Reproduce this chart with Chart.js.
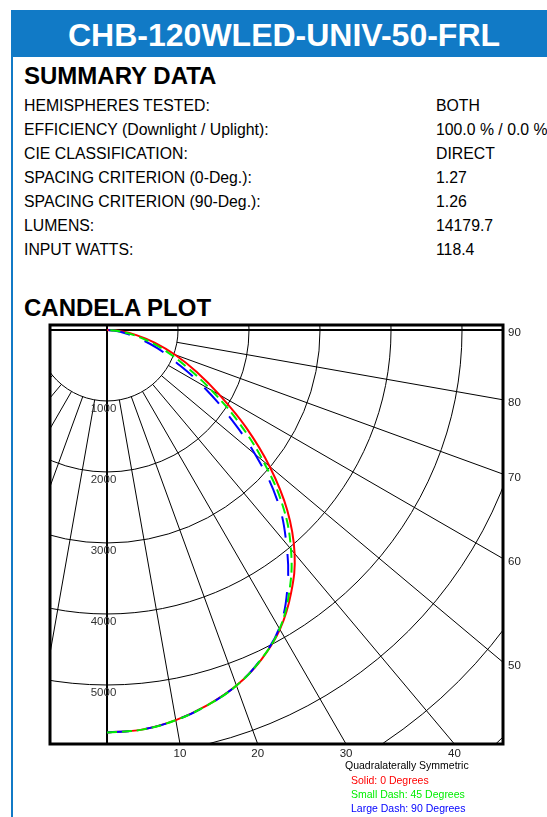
<!DOCTYPE html>
<html>
<head>
<meta charset="utf-8">
<title>CHB-120WLED-UNIV-50-FRL</title>
<script src="https://cdn.jsdelivr.net/npm/chart.js@4.4.1/dist/chart.umd.min.js"></script>
<style>
  html, body { margin: 0; padding: 0; background: #fff; }
  body { position: relative; width: 547px; height: 817px; overflow: hidden; font-family: "Liberation Sans", Arial, sans-serif; color: #000; }
  .bar { position: absolute; left: 11px; top: 10px; width: 536px; height: 47px; background: #117ac6; }
  .edge { position: absolute; left: 11px; top: 57px; width: 2px; height: 760px; background: #117ac6; }
  .title { position: absolute; left: 68px; top: 19px; font-size: 32px; line-height: 32px; font-weight: bold; color: #fff; white-space: nowrap; }
  .head { position: absolute; left: 24px; font-weight: bold; white-space: nowrap; }
  .row { position: absolute; font-size: 15.8px; line-height: 16px; white-space: nowrap; }
  .lbl { left: 24px; }
  .val { left: 436px; }
  #plot { position: absolute; left: 40px; top: 315px; width: 507px; height: 502px; }
  .legend { position: absolute; font-size: 10.5px; line-height: 10.5px; white-space: nowrap; }
</style>
</head>
<body>
<div class="bar"></div>
<div class="edge"></div>
<div class="title">CHB-120WLED-UNIV-50-FRL</div>

<div class="head" style="top:64px;font-size:24px;line-height:24px;">SUMMARY DATA</div>
<div class="row lbl" style="top:98px">HEMISPHERES TESTED:</div>
<div class="row val" style="top:98px">BOTH</div>
<div class="row lbl" style="top:122px">EFFICIENCY (Downlight / Uplight):</div>
<div class="row val" style="top:122px">100.0 % / 0.0 %</div>
<div class="row lbl" style="top:146px">CIE CLASSIFICATION:</div>
<div class="row val" style="top:146px">DIRECT</div>
<div class="row lbl" style="top:170px">SPACING CRITERION (0-Deg.):</div>
<div class="row val" style="top:170px">1.27</div>
<div class="row lbl" style="top:194px">SPACING CRITERION (90-Deg.):</div>
<div class="row val" style="top:194px">1.26</div>
<div class="row lbl" style="top:218px">LUMENS:</div>
<div class="row val" style="top:218px">14179.7</div>
<div class="row lbl" style="top:242px">INPUT WATTS:</div>
<div class="row val" style="top:242px">118.4</div>

<div class="head" style="top:296px;font-size:24px;line-height:24px;">CANDELA PLOT</div>

<div id="plot"><canvas id="candela"></canvas></div>

<div class="legend" style="left:345px;top:760px;color:#000">Quadralaterally Symmetric</div>
<div class="legend" style="left:351px;top:775px;color:#ff0000">Solid: 0 Degrees</div>
<div class="legend" style="left:351px;top:789px;color:#00ee00">Small Dash: 45 Degrees</div>
<div class="legend" style="left:351px;top:803px;color:#0000ff">Large Dash: 90 Degrees</div>

<script>
// vertical angles (0 = straight down, 90 = horizontal)
const angles = [0, 5, 10, 15, 20, 25, 30, 35, 40, 45, 50, 55, 60, 65, 70, 75, 80, 85, 90];
// candela per plane
const cd0  = [5670, 5650, 5580, 5470, 5330, 5130, 4870, 4520, 4110, 3590, 2990, 2390, 1830, 1390, 1020, 700, 420, 180, 0];
const cd45 = [5670, 5650, 5580, 5470, 5330, 5125, 4860, 4480, 4030, 3500, 2870, 2260, 1700, 1240, 900, 600, 340, 130, 0];
const cd90 = [5670, 5650, 5580, 5470, 5330, 5120, 4850, 4430, 3930, 3390, 2720, 2070, 1530, 1070, 760, 480, 260, 100, 0];

// grid
const ringValues = [1000, 2000, 3000, 4000, 5000, 6000, 7000, 8000];
const ringLabels = [1000, 2000, 3000, 4000, 5000];
const spokeAngles = [-80, -70, -60, -50, -40, -30, -20, -10, 10, 20, 30, 40, 50, 60, 70, 80];
const rightAngleLabels = [90, 80, 70, 60, 50];
const bottomAngleLabels = [10, 20, 30, 40];

const rad = d => d * Math.PI / 180;
const toXY = vals => angles.map((a, i) => ({ x: vals[i] * Math.sin(rad(a)), y: vals[i] * Math.cos(rad(a)) }));

const polarGrid = {
  id: 'polarGrid',
  beforeDatasetsDraw(chart) {
    const { ctx, chartArea: a, scales: { x, y } } = chart;
    const cx = x.getPixelForValue(0), cy = y.getPixelForValue(0);
    const px = v => x.getPixelForValue(v) - cx;
    ctx.save();
    ctx.beginPath();
    ctx.rect(a.left, a.top, a.right - a.left, a.bottom - a.top);
    ctx.clip();
    ctx.strokeStyle = '#000';
    ctx.lineWidth = 1;
    ringValues.forEach(v => {
      ctx.beginPath();
      ctx.arc(cx, cy, px(v), 0, Math.PI * 2);
      ctx.stroke();
    });
    spokeAngles.forEach(d => {
      const s = Math.sin(rad(d)), c = Math.cos(rad(d));
      ctx.beginPath();
      ctx.moveTo(x.getPixelForValue(1000 * s), y.getPixelForValue(1000 * c));
      ctx.lineTo(x.getPixelForValue(12000 * s), y.getPixelForValue(12000 * c));
      ctx.stroke();
    });
    // main axes: 0 deg and 90 deg
    ctx.lineWidth = 2;
    ctx.beginPath();
    ctx.moveTo(cx, a.top); ctx.lineTo(cx, a.bottom);
    ctx.moveTo(a.left, cy); ctx.lineTo(a.right, cy);
    ctx.stroke();

    ctx.fillStyle = '#333';
    ctx.font = '11.5px "Liberation Sans", Arial, sans-serif';
    ctx.textAlign = 'center';
    ctx.textBaseline = 'alphabetic';
    ringLabels.forEach(v => {
      ctx.fillText(String(v), cx - 3.5, y.getPixelForValue(v) + 11.5);
    });
    ctx.restore();
  },
  afterDraw(chart) {
    const { ctx, chartArea: a, scales: { x, y } } = chart;
    ctx.save();
    ctx.strokeStyle = '#000';
    ctx.lineWidth = 3;
    ctx.strokeRect(a.left, a.top, a.right - a.left, a.bottom - a.top);

    ctx.fillStyle = '#222';
    ctx.font = '11.5px "Liberation Sans", Arial, sans-serif';
    ctx.textBaseline = 'alphabetic';
    ctx.textAlign = 'left';
    rightAngleLabels.forEach(d => {
      const yv = d === 90 ? 0 : x.max / Math.tan(rad(d));
      ctx.fillText(String(d), a.right + 5, y.getPixelForValue(yv) + 6.5);
    });
    ctx.textAlign = 'center';
    bottomAngleLabels.forEach(d => {
      ctx.fillText(String(d), x.getPixelForValue(y.max * Math.tan(rad(d))), a.bottom + 13);
    });
    ctx.restore();
  }
};

document.addEventListener("DOMContentLoaded", function () {
  const canvas = document.getElementById("candela");
  new Chart(canvas, {
    type: 'scatter',
    data: {
      datasets: [
        {
          label: 'Solid: 0 Degrees',
          data: toXY(cd0),
          borderColor: '#ff0000',
          borderWidth: 2,
          order: 2
        },
        {
          label: 'Small Dash: 45 Degrees',
          data: toXY(cd45),
          borderColor: '#00ee00',
          borderWidth: 2,
          borderDash: [10, 5],
          order: 0
        },
        {
          label: 'Large Dash: 90 Degrees',
          data: toXY(cd90),
          borderColor: '#0000ff',
          borderWidth: 2,
          borderDash: [22, 16],
          order: 1
        }
      ]
    },
    options: {
      responsive: true,
      maintainAspectRatio: false,
      animation: false,
      showLine: true,
      elements: {
        point: { radius: 0, hoverRadius: 0 },
        line: { tension: 0.4, fill: false }
      },
      layout: { padding: { left: 10, top: 10, right: 44, bottom: 73 } },
      plugins: {
        legend: { display: false },
        tooltip: { enabled: false }
      },
      scales: {
        x: { type: 'linear', display: false, min: -803, max: 5577 },
        y: { type: 'linear', display: false, reverse: true, min: -70, max: 5831 }
      }
    },
    plugins: [polarGrid]
  });
});
</script>
</body>
</html>
